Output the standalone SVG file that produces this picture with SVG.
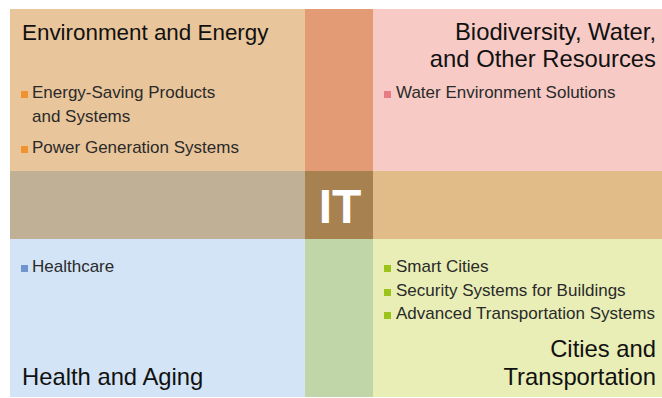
<svg xmlns="http://www.w3.org/2000/svg" width="662" height="398" viewBox="0 0 662 398">
<style>
.t{font-family:"Liberation Sans",Arial,sans-serif;font-size:23.8px;fill:#111}
.e{font-size:22.4px}
.i{font-family:"Liberation Sans",Arial,sans-serif;font-size:17px;fill:#2a2a2a}
.r{text-anchor:end}
.it{font-family:"Liberation Sans",Arial,sans-serif;font-size:48px;font-weight:bold;fill:#fff;text-anchor:middle}
</style>
<rect x="0" y="0" width="662" height="398" fill="#fff"/>
<g id="environment-energy">
<rect x="10" y="9" width="295" height="162" fill="#E9C59B"/>
<text class="t e" x="22" y="40">Environment and Energy</text>
<rect x="21" y="91" width="7" height="7" fill="#F0922E"/>
<text class="i" x="32" y="98">Energy-Saving Products</text>
<text class="i" x="32" y="122">and Systems</text>
<rect x="21" y="146" width="7" height="7" fill="#F0922E"/>
<text class="i" x="32" y="153">Power Generation Systems</text>
</g>
<g id="biodiversity-water">
<rect x="373" y="9" width="289" height="162" fill="#F7CAC5"/>
<text class="t r" x="656" y="40">Biodiversity, Water,</text>
<text class="t r" x="656" y="67">and Other Resources</text>
<rect x="384" y="91" width="7" height="7" fill="#E87C84"/>
<text class="i" x="396" y="98">Water Environment Solutions</text>
</g>
<g id="health-aging">
<rect x="10" y="239" width="295" height="158" fill="#D2E4F5"/>
<rect x="21" y="265" width="7" height="7" fill="#7094CF"/>
<text class="i" x="32" y="272">Healthcare</text>
<text class="t" x="22" y="385">Health and Aging</text>
</g>
<g id="cities-transportation">
<rect x="373" y="239" width="289" height="158" fill="#E8EEB5"/>
<rect x="384" y="265" width="7" height="7" fill="#9CC31A"/>
<text class="i" x="396" y="272">Smart Cities</text>
<rect x="384" y="289" width="7" height="7" fill="#9CC31A"/>
<text class="i" x="396" y="296">Security Systems for Buildings</text>
<rect x="384" y="312" width="7" height="7" fill="#9CC31A"/>
<text class="i" x="396" y="319">Advanced Transportation Systems</text>
<text class="t r" x="656" y="357">Cities and</text>
<text class="t r" x="656" y="385">Transportation</text>
</g>
<g id="it-bands">
<rect x="305" y="9" width="68" height="162" fill="#E39B76"/>
<rect x="305" y="239" width="68" height="158" fill="#C0D6A9"/>
<rect x="10" y="171" width="295" height="68" fill="#C0B196"/>
<rect x="373" y="171" width="289" height="68" fill="#E1BC88"/>
</g>
<g id="it">
<rect x="305" y="171" width="68" height="68" fill="#A88151"/>
<text class="it" x="340" y="223">IT</text>
</g>
</svg>
